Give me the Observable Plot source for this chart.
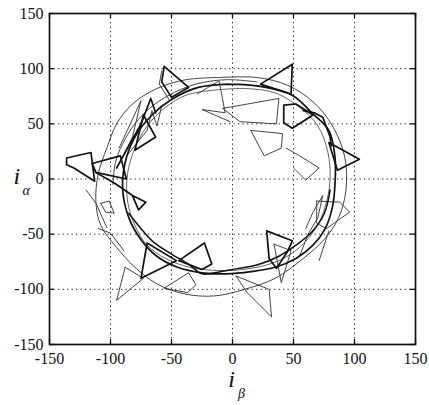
<!DOCTYPE html>
<html>
<head>
<meta charset="utf-8">
<script src="https://cdn.jsdelivr.net/npm/d3@7"></script>
<script src="https://cdn.jsdelivr.net/npm/@observablehq/plot@0.6"></script>
<style>
  html, body { margin: 0; padding: 0; background: white; }
</style>
</head>
<body>
<div id="chart"></div>
<script>
// Tick values
const xTicks = [-150, -100, -50, 0, 50, 100, 150];
const yTicks = [-150, -100, -50, 0, 50, 100, 150];
const gridTicks = [-100, -50, 0, 50, 100];

// Main circular passes of the current trajectory [i_beta, i_alpha]
const ring1 = [[-3,86],[23,84],[49,76],[65,60],[79,44],[84,20],[84,-5],[82,-25],[76,-45],[66,-60],[52,-72],[35,-80],[15,-84],[-5,-86],[-25,-85],[-45,-80],[-62,-70],[-75,-55],[-85,-35],[-90,-10],[-88,15],[-80,38],[-66,58],[-50,72],[-28,83],[-3,86]];
const ring2 = [[-10,92],[20,92],[45,85],[66,70],[82,48],[92,20],[93,-10],[87,-35],[75,-55],[58,-72],[35,-90],[10,-100],[-15,-106],[-40,-104],[-62,-95],[-80,-80],[-95,-62],[-108,-42],[-112,-20],[-110,5],[-103,28],[-95,50],[-82,68],[-62,82],[-38,90],[-10,92]];
const ring3 = [[-20,80],[10,82],[35,78],[55,65],[70,48],[78,25],[80,0],[76,-25],[68,-45],[55,-62],[38,-74],[15,-81],[-10,-83],[-35,-80],[-55,-72],[-70,-60],[-80,-42],[-86,-20],[-86,5],[-80,28],[-70,48],[-55,65],[-38,76],[-20,80]];
const ring4 = [[-85,-31],[-75,-45],[-65,-57],[-50,-68],[-35,-78],[-25,-86],[-10,-84],[5,-81],[20,-78],[38,-70],[52,-60],[65,-48],[75,-32],[80,-10]];
const ring5 = [[-98,-5],[-96,15],[-90,32],[-80,50],[-68,64],[-52,76],[-30,86],[-5,90],[20,88]];

// Thick excursions
const thickTopLeftTri = [[-56,102],[-36,83],[-50,74],[-58,88],[-56,102]];
const thickTopRightTri = [[23,86],[49,104],[48,77],[23,86]];
const thickRightTri = [[79,33],[104,18],[86,8],[79,33]];
const thickRightQuad = [[58,62],[67,60],[74,56],[80,38],[81,30]];
const thickMidRight = [[42,67],[42,51],[49,46],[66,58],[52,68],[42,67]];
const thickLeftQuad = [[-136,19],[-116,24],[-113,-2],[-130,10],[-136,13],[-136,19]];
const thickLeftPoly = [[-115,14],[-92,21],[-87,0],[-112,6],[-115,14]];
const thickLeftDiag = [[-112,6],[-95,-5],[-82,-15],[-71,-21],[-77,-28],[-82,-15]];
const thickUpperLeft = [[-73,58],[-63,38],[-80,26],[-73,58]];
const thickUpperLeftLine = [[-95,10],[-85,30],[-75,50],[-67,73],[-63,60]];
const thickLowLeftTri = [[-70,-58],[-75,-90],[-46,-74],[-70,-58]];
const thickLowQuad = [[-44,-74],[-23,-58],[-17,-77],[-25,-82],[-44,-74]];
const thickLowRight = [[28,-47],[49,-56],[45,-66],[36,-81],[30,-72],[28,-47]];

// Thin excursions
const thinTopCenter = [[-29,77],[-11,89],[-6,60],[-25,63],[-2,52]];
const thinQ1 = [[-8,64],[38,73],[36,50],[6,52],[-8,64]];
const thinP2 = [[15,44],[26,21],[40,28],[41,41],[34,42],[15,44]];
const thinP6 = [[44,28],[55,21],[71,10],[60,-1],[50,10]];
const thinP7 = [[69,-20],[88,-21],[96,-30],[77,-45],[69,-40],[69,-20]];
const thinRightLine = [[79,-47],[71,-74]];
const thinLowRightTri = [[34,-59],[48,-65],[40,-94],[34,-59]];
const thinBottomQuad = [[3,-88],[30,-100],[32,-125],[12,-103],[3,-88]];
const thinLowQuad = [[-56,-99],[-36,-85],[-30,-96],[-37,-103],[-56,-99]];
const thinLowLeftTri = [[-88,-80],[-95,-110],[-73,-90],[-88,-80]];
const thinLeftLine = [[-110,-45],[-100,-49],[-89,-65]];
const thinLeftArc = [[-120,-10],[-112,-22],[-103,-44]];
const thinDiamond = [[-108,-22],[-101,-20],[-97,-31],[-104,-30],[-108,-22]];
const thinUpperLeftZig = [[-93,28],[-75,71],[-82,38],[-90,20]];
const thinTopLeftDouble = [[-58,98],[-60,86],[-52,72]];
const thinUpperLeftZig2 = [[-86,22],[-70,44],[-66,62],[-62,48],[-58,66]];
const thinRightCluster = [[55,-70],[62,-50],[70,-35],[74,-15],[66,-30],[60,-45]];

const thickShapes = [thickTopLeftTri, thickTopRightTri, thickRightTri, thickRightQuad, thickMidRight,
  thickLeftQuad, thickLeftPoly, thickLeftDiag, thickUpperLeft, thickUpperLeftLine,
  thickLowLeftTri, thickLowQuad, thickLowRight];
const thinShapes = [thinTopCenter, thinQ1, thinP2, thinP6, thinP7, thinRightLine, thinLowRightTri,
  thinBottomQuad, thinLowQuad, thinLowLeftTri, thinLeftLine, thinLeftArc, thinDiamond,
  thinUpperLeftZig, thinTopLeftDouble, thinUpperLeftZig2, thinRightCluster];

const font = "'Liberation Serif', 'DejaVu Serif', serif";
const X = d => d[0], Y = d => d[1];

const marks = [
  Plot.gridX(gridTicks, {stroke: "#222", strokeOpacity: 1, strokeDasharray: "1.3,3.2", strokeWidth: 1}),
  Plot.gridY(gridTicks, {stroke: "#222", strokeOpacity: 1, strokeDasharray: "1.3,3.2", strokeWidth: 1}),
  Plot.line(ring2, {x: X, y: Y, curve: "catmull-rom", stroke: "#444", strokeWidth: 1}),
  Plot.line(ring3, {x: X, y: Y, curve: "catmull-rom", stroke: "#555", strokeWidth: 0.9}),
  Plot.line(ring5, {x: X, y: Y, curve: "catmull-rom", stroke: "#444", strokeWidth: 1}),
  ...thinShapes.map(s => Plot.line(s, {x: X, y: Y, stroke: "#444", strokeWidth: 1})),
  Plot.line(ring1, {x: X, y: Y, curve: "catmull-rom", stroke: "#111", strokeWidth: 1.7}),
  Plot.line(ring4, {x: X, y: Y, curve: "catmull-rom", stroke: "#111", strokeWidth: 1.5}),
  ...thickShapes.map(s => Plot.line(s, {x: X, y: Y, stroke: "#111", strokeWidth: 1.7})),
  Plot.frame({stroke: "#111", strokeWidth: 1.7}),
  Plot.ruleX(xTicks, {x: d => d, y1: -150, y2: -145.5, stroke: "#111", strokeWidth: 1.3}),
  Plot.ruleX(xTicks, {x: d => d, y1: 150, y2: 145.5, stroke: "#111", strokeWidth: 1.3}),
  Plot.ruleY(yTicks, {y: d => d, x1: -150, x2: -146, stroke: "#111", strokeWidth: 1.3}),
  Plot.ruleY(yTicks, {y: d => d, x1: 150, x2: 146, stroke: "#111", strokeWidth: 1.3}),
  Plot.axisX({ticks: xTicks, tickSize: 0, tickPadding: 8, tickFormat: d => String(d), fontSize: 16, fontFamily: font, label: null}),
  Plot.axisY({ticks: yTicks, tickSize: 0, tickPadding: 6, tickFormat: d => String(d), fontSize: 16, fontFamily: font, label: null}),
  Plot.text(["i"], {frameAnchor: "left", text: d => d, dx: -36, dy: -3, fontSize: 24, fontStyle: "italic", fontFamily: font, fill: "#111"}),
  Plot.text(["α"], {frameAnchor: "left", text: d => d, dx: -27, dy: 12, fontSize: 14, fontStyle: "italic", fontFamily: font, fill: "#111"}),
  Plot.text(["i"], {frameAnchor: "bottom", text: d => d, dx: -1, dy: 42, fontSize: 24, fontStyle: "italic", fontFamily: font, fill: "#111"}),
  Plot.text(["β"], {frameAnchor: "bottom", text: d => d, dx: 9, dy: 53, fontSize: 14, fontStyle: "italic", fontFamily: font, fill: "#111"})
];

const chart = Plot.plot({
  width: 429,
  height: 405,
  marginLeft: 49,
  marginRight: 14,
  marginTop: 13,
  marginBottom: 61,
  x: {domain: [-150, 150]},
  y: {domain: [-150, 150]},
  style: {fontFamily: font, fontSize: "16px", color: "#111", background: "white"},
  marks
});
document.getElementById("chart").appendChild(chart);
</script>
</body>
</html>
